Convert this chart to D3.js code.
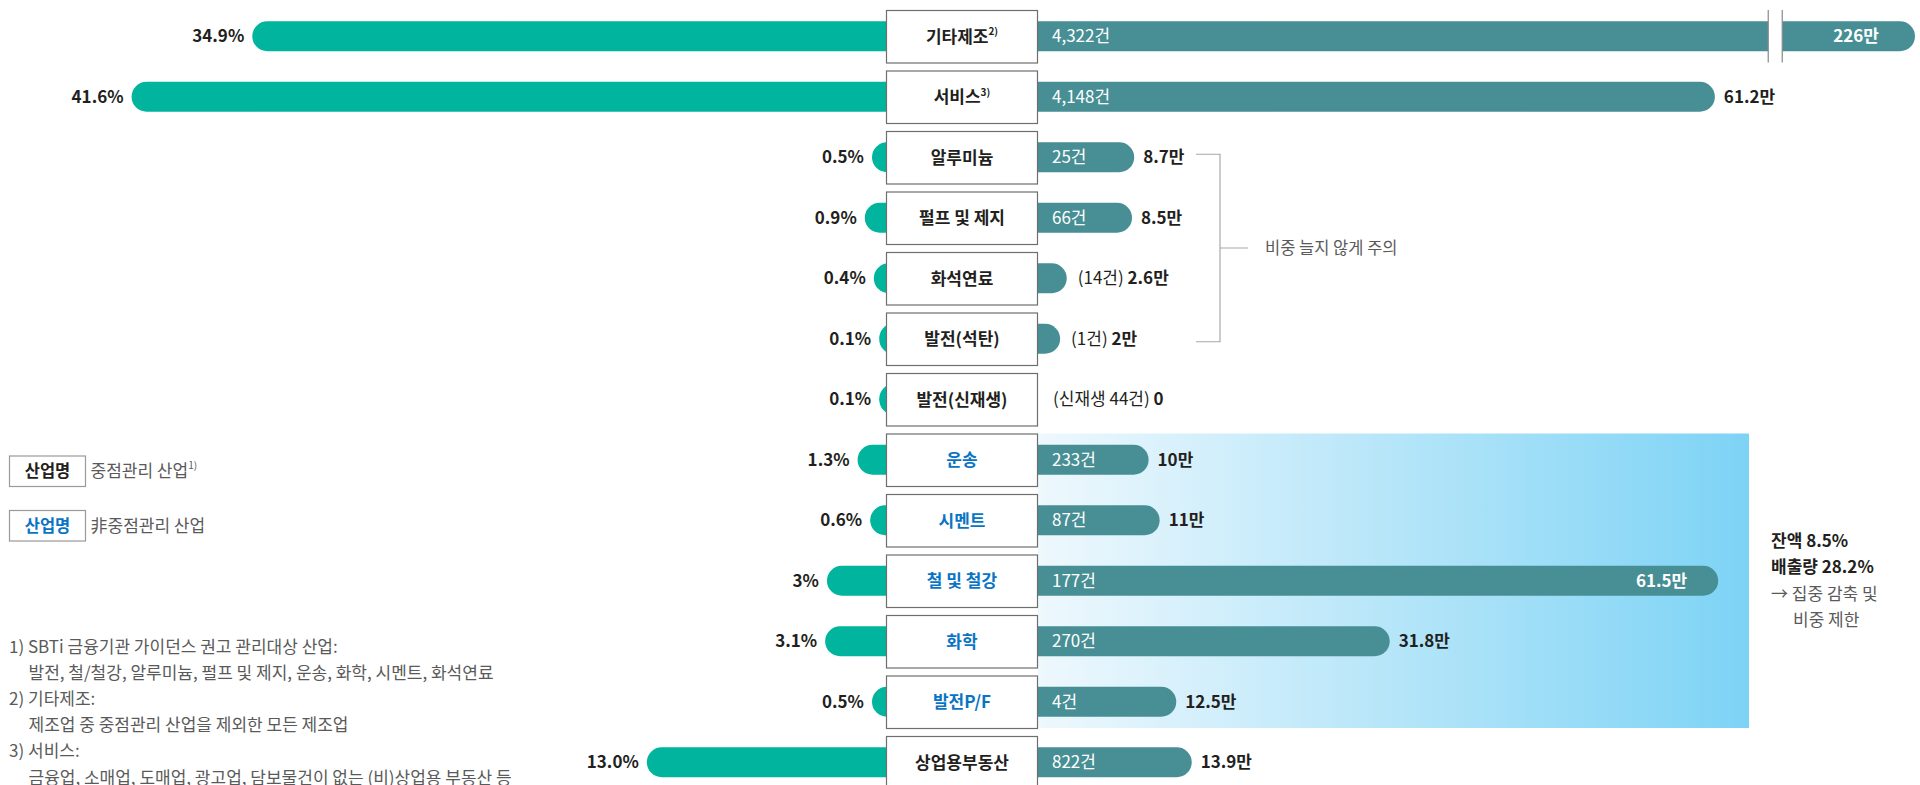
<!DOCTYPE html>
<html>
<head>
<meta charset="utf-8">
<script src="https://cdn.jsdelivr.net/npm/d3@7"></script>
<style>
  body { margin: 0; background: #fff; }
  svg { display: block; font-family: "Noto Sans CJK KR", "Noto Sans", sans-serif; }
</style>
</head>
<body>
<div id="chart"></div>
<script>
// industries, top to bottom
const industries = ['기타제조', '서비스', '알루미늄', '펄프 및 제지', '화석연료', '발전(석탄)', '발전(신재생)',
  '운송', '시멘트', '철 및 철강', '화학', '발전P/F', '상업용부동산'];
const notes = ['2)', '3)', '', '', '', '', '', '', '', '', '', '', ''];
// blue label = 非중점관리
const nonFocus = [false, false, false, false, false, false, false, true, true, true, true, true, false];
// left side: loan balance share (%)
const shares = [34.9, 41.6, 0.5, 0.9, 0.4, 0.1, 0.1, 1.3, 0.6, 3, 3.1, 0.5, 13.0];
const shareLabels = ['34.9%', '41.6%', '0.5%', '0.9%', '0.4%', '0.1%', '0.1%', '1.3%', '0.6%', '3%', '3.1%', '0.5%', '13.0%'];
// right side: number of borrowers and emissions (만 tCO2e)
const counts = ['4,322', '4,148', '25', '66', '14', '1', '44', '233', '87', '177', '270', '4', '822'];
const emissions = [226, 61.2, 8.7, 8.5, 2.6, 2, 0, 10, 11, 61.5, 31.8, 12.5, 13.9];
const emissionLabels = ['226만', '61.2만', '8.7만', '8.5만', '2.6만', '2만', '0', '10만', '11만', '61.5만', '31.8만', '12.5만', '13.9만'];
// how the right labels sit: 'in' = count in bar, 'out' = count after bar, 'none' = no bar, 'end' = value inside bar end
const labelMode = ['end', 'in', 'in', 'in', 'out', 'out', 'none', 'in', 'in', 'end', 'in', 'in', 'in'];

const legendItems = [['산업명', '중점관리 산업', '1)'], ['산업명', '非중점관리 산업', '']];
const footnotes = [
  ['1) SBTi 금융기관 가이던스 권고 관리대상 산업:', 0],
  ['발전, 철/철강, 알루미늄, 펄프 및 제지, 운송, 화학, 시멘트, 화석연료', 1],
  ['2) 기타제조:', 0],
  ['제조업 중 중점관리 산업을 제외한 모든 제조업', 1],
  ['3) 서비스:', 0],
  ['금융업, 소매업, 도매업, 광고업, 담보물건이 없는 (비)상업용 부동산 등', 1]
];
const noteLines = [['잔액 8.5%', true], ['배출량 28.2%', true], ['→ 집중 감축 및', false], ['비중 제한', false]];

const width = 1920, height = 785;
const boxLeft = 886, boxRight = 1038, boxH = 52.5, barH = 30;
const teal = '#00b49d', slate = '#478f95', blue = '#0a74c4', dark = '#231f20', grey = '#5a5a5a';

const y = d3.scaleBand().domain(industries).range([10, 10 + 60.5 * industries.length]).padding(0);
const mid = d => y(d) + boxH / 2;
const xL = d3.scaleLinear().domain([0, 41.6]).range([881, 131.6]);
// broken axis for the 226만 bar
const xR = d3.scaleLinear().domain([0, 66, 226]).range([boxRight, boxRight + 66 * 11.06, 1915]);

const svg = d3.select('#chart').append('svg')
  .attr('width', width).attr('height', height);

const defs = svg.append('defs');
const grad = defs.append('linearGradient').attr('id', 'bg').attr('x1', 0).attr('x2', 1);
grad.append('stop').attr('offset', 0).attr('stop-color', '#eef8fd');
grad.append('stop').attr('offset', 1).attr('stop-color', '#7dd3f5');

// highlighted zone
svg.append('rect')
  .attr('x', boxRight).attr('y', y('운송'))
  .attr('width', 1749 - boxRight).attr('height', y('발전P/F') + boxH - y('운송'))
  .attr('fill', 'url(#bg)');

const rows = industries.map((name, i) => ({
  name, i, note: notes[i], blue: nonFocus[i], share: shares[i], shareLabel: shareLabels[i],
  count: counts[i], em: emissions[i], emLabel: emissionLabels[i], mode: labelMode[i]
}));

// left bars
svg.append('g').selectAll('rect').data(rows).join('rect')
  .attr('x', d => xL(d.share))
  .attr('y', d => mid(d.name) - barH / 2)
  .attr('width', d => boxLeft + 20 - xL(d.share))
  .attr('height', barH).attr('rx', barH / 2)
  .attr('fill', teal);

svg.append('g').selectAll('text').data(rows).join('text')
  .attr('x', d => xL(d.share) - 8)
  .attr('y', d => mid(d.name))
  .attr('dy', '0.35em').attr('text-anchor', 'end')
  .attr('font-size', 17).attr('font-weight', 700).attr('fill', dark)
  .text(d => d.shareLabel);

// right bars
svg.append('g').selectAll('rect').data(rows.filter(d => d.em > 0)).join('rect')
  .attr('x', boxRight - 20)
  .attr('y', d => mid(d.name) - barH / 2)
  .attr('width', d => xR(d.em) - boxRight + 20)
  .attr('height', barH).attr('rx', barH / 2)
  .attr('fill', slate);

// axis break on the first bar
const bx = xR(66.3);
const brk = svg.append('g');
brk.append('rect').attr('x', bx).attr('y', y('기타제조')).attr('width', 14).attr('height', boxH).attr('fill', '#fff');
brk.selectAll('line').data([bx, bx + 14]).join('line')
  .attr('x1', d => d).attr('x2', d => d)
  .attr('y1', y('기타제조')).attr('y2', y('기타제조') + boxH)
  .attr('stroke', '#888').attr('stroke-width', 1.2);

// right labels
const rl = svg.append('g').attr('font-size', 17);
rows.forEach(d => {
  const cy = mid(d.name);
  if (d.mode === 'in' || d.mode === 'end') {
    rl.append('text').attr('x', boxRight + 14).attr('y', cy).attr('dy', '0.35em')
      .attr('fill', '#fff').text(d.count + '건');
  }
  if (d.mode === 'in') {
    rl.append('text').attr('x', xR(d.em) + 9).attr('y', cy).attr('dy', '0.35em')
      .attr('font-weight', 700).attr('fill', dark).text(d.emLabel);
  }
  if (d.mode === 'end') {
    rl.append('text').attr('x', xR(d.em) - (d.em > 100 ? 36 : 31)).attr('y', cy).attr('dy', '0.35em')
      .attr('text-anchor', 'end').attr('font-weight', 700).attr('fill', '#fff').text(d.emLabel);
  }
  if (d.mode === 'out' || d.mode === 'none') {
    const t = rl.append('text')
      .attr('x', d.mode === 'out' ? xR(d.em) + 11 : boxRight + 15)
      .attr('y', cy).attr('dy', '0.35em').attr('fill', dark);
    t.append('tspan').text(d.mode === 'out' ? `(${d.count}건) ` : `(신재생 ${d.count}건) `);
    t.append('tspan').attr('font-weight', 700).text(d.emLabel);
  }
});

// label boxes
const box = svg.append('g').selectAll('g').data(rows).join('g')
  .attr('transform', d => `translate(${boxLeft},${y(d.name)})`);
box.append('rect')
  .attr('x', 0.5).attr('y', 0.5).attr('width', boxRight - boxLeft - 1).attr('height', boxH)
  .attr('fill', '#fff').attr('stroke', '#6e6e6e').attr('stroke-width', 1.2);
const bt = box.append('text')
  .attr('x', (boxRight - boxLeft) / 2).attr('y', boxH / 2 + 0.5).attr('dy', '0.35em')
  .attr('text-anchor', 'middle').attr('font-size', 17).attr('font-weight', 700)
  .attr('fill', d => d.blue ? blue : dark);
bt.append('tspan').text(d => d.name);
bt.filter(d => d.note).append('tspan')
  .attr('font-size', 10).attr('dy', '-0.75em').text(d => d.note);

// bracket: 비중 늘지 않게 주의
const by1 = mid('알루미늄') - 3, by2 = mid('발전(석탄)') + 3, bxl = 1196, bxr = 1220;
svg.append('path')
  .attr('d', `M${bxl},${by1}H${bxr}V${by2}H${bxl}M${bxr},${(by1 + by2) / 2}H${bxr + 28}`)
  .attr('fill', 'none').attr('stroke', '#a8a8a8').attr('stroke-width', 1.2);
svg.append('text').attr('x', bxr + 45).attr('y', (by1 + by2) / 2).attr('dy', '0.35em')
  .attr('font-size', 16.5).attr('fill', grey).text('비중 늘지 않게 주의');

// annotation for the highlighted zone
svg.append('g').selectAll('text').data(noteLines).join('text')
  .attr('x', (d, i) => i === 3 ? 1793 : 1771)
  .attr('y', (d, i) => 540.7 + i * 26.5).attr('dy', '0.35em')
  .attr('font-size', 17).attr('font-weight', d => d[1] ? 700 : 400)
  .attr('fill', d => d[1] ? dark : grey)
  .text(d => d[0]);

// legend
const lg = svg.append('g').selectAll('g').data(legendItems).join('g')
  .attr('transform', (d, i) => `translate(9.5,${456 + i * 54.5})`);
lg.append('rect').attr('width', 76).attr('height', 30.5)
  .attr('fill', '#fff').attr('stroke', '#9a9a9a').attr('stroke-width', 1.2);
lg.append('text').attr('x', 38).attr('y', 15.5).attr('dy', '0.35em').attr('text-anchor', 'middle')
  .attr('font-size', 16.5).attr('font-weight', 700).attr('fill', (d, i) => i ? blue : dark)
  .text(d => d[0]);
const lt = lg.append('text').attr('x', 81).attr('y', 15.5).attr('dy', '0.35em')
  .attr('font-size', 17).attr('fill', grey);
lt.append('tspan').text(d => d[1]);
lt.append('tspan').attr('font-size', 10).attr('dy', '-0.8em').text(d => d[2]);

// footnotes (last line runs past the bottom edge, as in the source)
svg.append('g').selectAll('text').data(footnotes).join('text')
  .attr('x', d => d[1] ? 28.5 : 9)
  .attr('y', (d, i) => 646.6 + i * 26.2).attr('dy', '0.35em')
  .attr('font-size', 17).attr('fill', grey)
  .text(d => d[0]);
</script>
</body>
</html>
